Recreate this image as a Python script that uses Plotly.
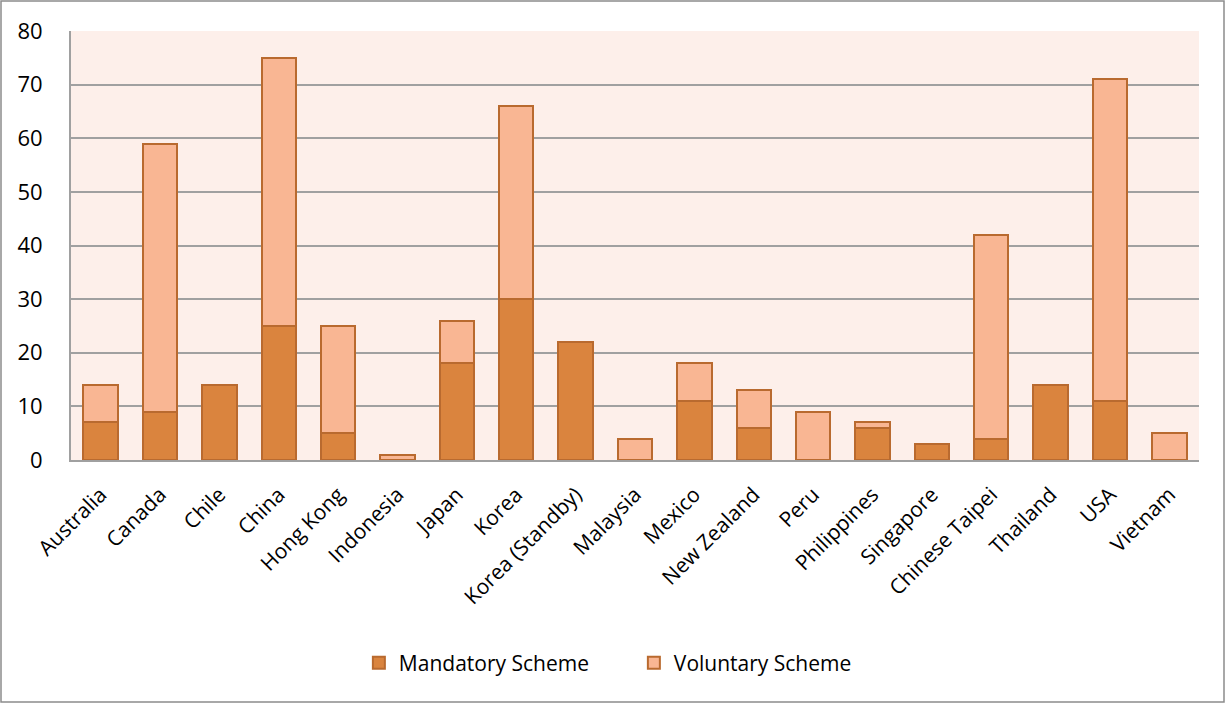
import plotly.graph_objects as go

categories = ["Australia", "Canada", "Chile", "China", "Hong Kong", "Indonesia", "Japan",
              "Korea", "Korea (Standby)", "Malaysia", "Mexico", "New Zealand", "Peru",
              "Philippines", "Singapore", "Chinese Taipei", "Thailand", "USA", "Vietnam"]
mandatory = [7, 9, 14, 25, 5, 0, 18, 30, 22, 0, 11, 6, 0, 6, 3, 4, 14, 11, 0]
voluntary = [7, 50, 0, 50, 20, 1, 8, 36, 0, 4, 7, 7, 9, 1, 0, 38, 0, 60, 5]
y_ticks = [0, 10, 20, 30, 40, 50, 60, 70, 80]

W, H = 1226, 704
ml, mr, mt, mb = 71, 27, 31, 244
pw, ph = W - ml - mr, H - mt - mb

fig = go.Figure()
fig.add_trace(go.Bar(x=categories, y=mandatory, name="Mandatory Scheme",
                     marker=dict(color="#DA843E", line=dict(color="#B96A2F", width=2))))
fig.add_trace(go.Bar(x=categories, y=voluntary, name="Voluntary Scheme",
                     marker=dict(color="#F9B693", line=dict(color="#B96A2F", width=2))))

fig.update_layout(
    barmode="stack",
    bargap=0.42,
    width=W, height=H,
    margin=dict(l=ml, r=mr, t=mt, b=mb),
    paper_bgcolor="white",
    plot_bgcolor="#FDEFEA",
    font=dict(family="Open Sans, Liberation Sans, sans-serif", color="black"),
    legend=dict(orientation="h", x=0.499, xanchor="center", y=(H - mb - 663) / ph,
                yanchor="middle", font=dict(size=21), traceorder="normal",
                entrywidth=230, itemwidth=30),
    showlegend=True,
)
fig.update_yaxes(range=[0, 80], tickvals=y_ticks, showgrid=True, gridcolor="#A0A0A0",
                 gridwidth=1.5, showline=True, linecolor="#A0A0A0", linewidth=2,
                 tickfont=dict(size=22), zeroline=False, ticks="", ticklen=0,
                 ticklabelstandoff=22)
fig.update_xaxes(tickangle=-45, tickfont=dict(size=21), showline=True, linecolor="#A0A0A0",
                 linewidth=2, ticks="", ticklabelstandoff=12)

# outer chart border
fig.add_shape(type="rect", xref="paper", yref="paper",
              x0=(1 - ml) / pw, x1=(W - 2 - ml) / pw,
              y0=(H - mb - (H - 2)) / ph, y1=(H - mb - 1) / ph,
              line=dict(color="#8C8C8C", width=1.5), fillcolor="rgba(0,0,0,0)", layer="below")

fig.write_html("out.html", post_script="document.body.style.margin='0';",
               config={"displayModeBar": False})
